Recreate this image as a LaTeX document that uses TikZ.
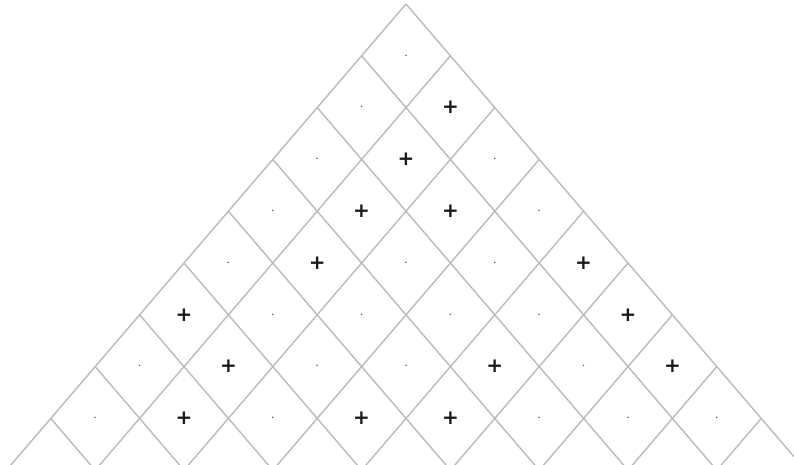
\documentclass[tikz,border=0pt]{standalone}
\usepackage{fontspec}
\usetikzlibrary{calc}
\newfontfamily\markfont{DejaVu Sans}
\newcommand{\cellw}{44.4}
\newcommand{\cellh}{51.8}
\tikzset{
  gridline/.style={draw=black!27,line width=1.4pt},
  cellplus/.style={inner sep=0pt,text=black!90,font=\markfont\bfseries\fontsize{20}{20}\selectfont},
  celldot/.style={inner sep=0pt,text=black!70,font=\Large}
}

\begin{document}
\begin{tikzpicture}[x=1pt,y=-1pt]
    \useasboundingbox (0,0) rectangle (794,464);
    \clip (0,0) rectangle (794,464);
    % apex of the triangle
    \coordinate (top) at (406,4);
    % grid lines, both directions
    \foreach \k in {0,...,8}{
      \coordinate (r\k) at ($(top)+(\k*\cellw,\k*\cellh)$);
      \coordinate (l\k) at ($(top)+(-\k*\cellw,\k*\cellh)$);
      \draw[gridline] (r\k) -- ++(-12*\cellw,12*\cellh);
      \draw[gridline] (l\k) -- ++(12*\cellw,12*\cellh);
    }
    % cell marks: 1 = plus, 0 = dot
    \foreach \r/\row in {0/{0},1/{0,1},2/{0,1,0},3/{0,1,1,0},4/{0,1,0,0,1},
                         5/{1,0,0,0,0,1},6/{0,1,0,0,1,0,1},7/{0,1,0,1,1,0,0,0}}{
      \foreach \s [count=\a from 0] in \row{
        \ifnum\s=1
          \node[cellplus] (c\r-\a) at ($(top)+({(2*\a-\r)*\cellw},{(\r+1)*\cellh})$) {+};
        \else
          \node[celldot] (c\r-\a) at ($(top)+({(2*\a-\r)*\cellw},{(\r+1)*\cellh})$) {$\cdot$};
        \fi
      }
    }
  \end{tikzpicture}
\end{document}
